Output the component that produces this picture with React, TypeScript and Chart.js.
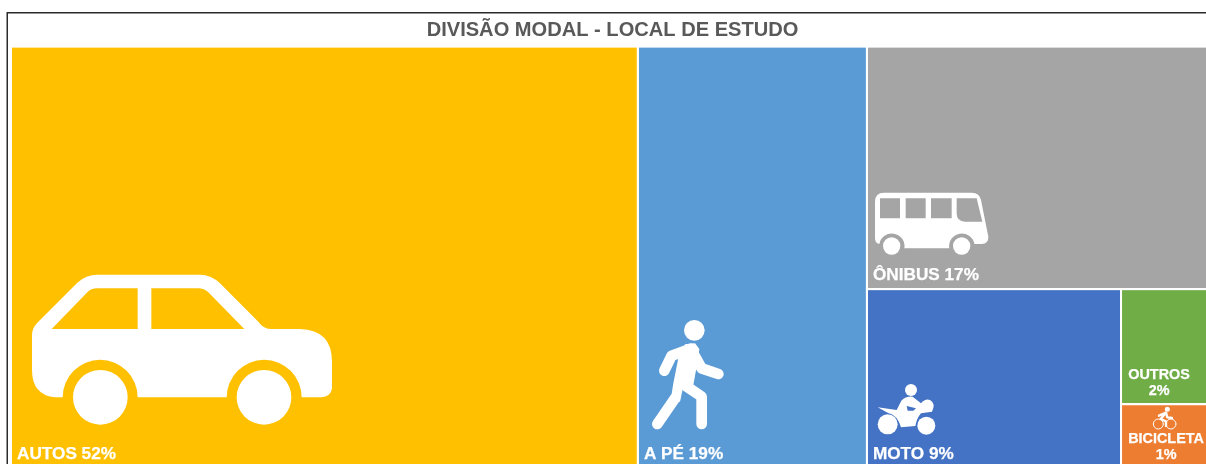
import React, { useEffect, useRef } from "react";
import { Chart, registerables } from "chart.js";

Chart.register(...registerables);

const titleText = "DIVISÃO MODAL - LOCAL DE ESTUDO";
const categories = ["AUTOS", "A PÉ", "ÔNIBUS", "MOTO", "OUTROS", "BICICLETA"];
const shares = [52.11, 19.04, 16.68, 8.91, 2.12, 1.14];
const colors = ["#FFC000", "#5B9BD5", "#A5A5A5", "#4472C4", "#70AD47", "#ED7D31"];

type Box = { x0: number; x1: number; y0: number; y1: number };

// Slice-and-dice treemap in value space (0..100 on both axes); y grows upwards.
function buildBoxes(v: number[]): Box[] {
  const total = v.reduce((a, b) => a + b, 0);
  const pct = v.map((n) => (n / total) * 100);
  const [a, p, o, m, t, b] = pct;
  const rightStart = a + p;
  const rightW = 100 - rightStart;
  const lowerShare = ((m + t + b) / (o + m + t + b)) * 100;
  const motoEnd = rightStart + rightW * (m / (m + t + b));
  const splitOB = lowerShare * (b / (t + b));
  return [
    { x0: 0, x1: a, y0: 0, y1: 100 },
    { x0: a, x1: rightStart, y0: 0, y1: 100 },
    { x0: rightStart, x1: 100, y0: lowerShare, y1: 100 },
    { x0: rightStart, x1: motoEnd, y0: 0, y1: lowerShare },
    { x0: motoEnd, x1: 100, y0: splitOB, y1: lowerShare },
    { x0: motoEnd, x1: 100, y0: 0, y1: splitOB },
  ];
}

const boxes = buildBoxes(shares);
const FONT = '"Liberation Sans", Arial, sans-serif';

function drawIcons(ctx: CanvasRenderingContext2D) {
  ctx.save();
  ctx.fillStyle = "#fff";
  ctx.strokeStyle = "#fff";
  ctx.lineCap = "round";
  ctx.lineJoin = "round";
  const circle = (x: number, y: number, r: number) => {
    ctx.beginPath();
    ctx.arc(x, y, r, 0, Math.PI * 2);
    ctx.fill();
  };
  const line = (w: number, pts: number[][]) => {
    ctx.lineWidth = w;
    ctx.beginPath();
    pts.forEach(([x, y], i) => (i ? ctx.lineTo(x, y) : ctx.moveTo(x, y)));
    ctx.stroke();
  };

  // car
  ctx.save();
  ctx.translate(0, 260);
  ctx.scale(1 / 3, 1 / 3);
  ctx.fill(
    new Path2D(
      "M96 225 Q96 205 112 188 L232 68 Q258 44 292 44 L600 44 Q634 44 660 70 L775 185 Q790 207 815 207 L900 207 Q996 210 996 305 L996 380 Q996 412 955 412 L905 412 A112 112 0 0 0 680 412 L413 412 A112 112 0 0 0 188 412 L165 412 Q96 405 96 330 Z " +
        "M155 207 L262 97 Q272 85 292 85 L413 85 L413 207 Z M454 85 L595 85 Q612 85 625 97 L733 207 L454 207 Z"
    ),
    "evenodd"
  );
  circle(301, 412, 82);
  circle(792, 412, 82);
  ctx.restore();

  // pedestrian
  ctx.save();
  ctx.translate(630, 300);
  ctx.scale(1 / 3, 1 / 3);
  circle(193, 91, 31);
  line(32, [[103, 212], [125, 167], [182, 146], [215, 205], [265, 222]]);
  ctx.fill(new Path2D("M165 133 L195 130 L208 147 L200 200 L190 255 L158 268 L150 305 L122 300 L130 250 L145 175 Z"));
  line(32, [[135, 295], [82, 372]]);
  line(32, [[168, 258], [215, 290], [215, 372]]);
  ctx.restore();

  // bus
  ctx.save();
  ctx.translate(860, 180);
  ctx.scale(1 / 3, 1 / 3);
  ctx.fill(
    new Path2D(
      "M45 65 Q45 38 72 38 L335 38 Q358 38 363 60 L385 170 Q386 190 365 192 L343 192 A38 38 0 0 0 268 205 L133 205 A38 38 0 0 0 58 192 Q45 190 45 175 Z " +
        "M60 55 L120 55 L120 115 L60 115 Z M137 55 L197 55 L197 115 L137 115 Z M213 55 L275 55 L275 115 L213 115 Z " +
        "M290 55 L350 55 L367 125 L315 125 Q290 125 290 100 Z"
    ),
    "evenodd"
  );
  circle(95, 198, 26);
  circle(305, 198, 26);
  ctx.restore();

  // motorcycle
  ctx.save();
  ctx.translate(866, 370);
  ctx.scale(1 / 3, 1 / 3);
  circle(65, 163, 30);
  circle(181, 167, 27);
  circle(135, 60, 18);
  ctx.fill(
    new Path2D(
      "M35 112 L92 120 L106 92 Q120 78 140 80 L165 100 Q178 85 192 90 Q210 100 198 125 L165 130 Q152 145 148 168 L105 172 Q95 135 65 128 Z " +
        "M122 108 L150 115 L142 122 L125 122 Z"
    ),
    "evenodd"
  );
  ctx.restore();

  // bicycle
  ctx.save();
  ctx.translate(1110, 350);
  ctx.scale(1 / 3, 1 / 3);
  circle(172, 178, 7.5);
  ctx.lineWidth = 3;
  ctx.beginPath();
  ctx.arc(145, 222, 15, 0, Math.PI * 2);
  ctx.moveTo(198, 222);
  ctx.arc(183, 222, 15, 0, Math.PI * 2);
  ctx.stroke();
  line(7, [[147, 197], [168, 188], [172, 202], [186, 204]]);
  line(7, [[168, 188], [152, 207], [168, 214], [168, 228]]);
  ctx.restore();
  ctx.restore();
}

const treemapPlugin = {
  id: "treemapDecor",
  afterDatasetsDraw(chart: any) {
    const { ctx, scales } = chart;
    const { x, y } = scales;
    const px = (b: Box) => ({
      l: x.getPixelForValue(b.x0),
      r: x.getPixelForValue(b.x1),
      t: y.getPixelForValue(b.y1),
      b: y.getPixelForValue(b.y0),
    });
    ctx.save();
    // white gutters between the tiles
    ctx.strokeStyle = "#ffffff";
    ctx.lineWidth = 2;
    boxes.forEach((b) => {
      const p = px(b);
      ctx.strokeRect(p.l, p.t, p.r - p.l, p.b - p.t);
    });

    drawIcons(ctx);

    // tile labels
    ctx.fillStyle = "#ffffff";
    ctx.strokeStyle = "#ffffff";
    ctx.lineWidth = 0.25;
    ctx.textBaseline = "alphabetic";
    ctx.textAlign = "left";
    const put = (s: string, tx: number, ty: number) => {
      ctx.fillText(s, tx, ty);
      ctx.strokeText(s, tx, ty);
    };
    const pctText = (i: number) => `${Math.round(shares[i])}%`;
    ctx.font = `bold 17.2px ${FONT}`;
    [0, 1, 2, 3].forEach((i) => {
      const p = px(boxes[i]);
      const base = i === 2 ? p.b - 9.5 : 458.5;
      put(`${categories[i]} ${pctText(i)}`, p.l + 6, base);
    });
    ctx.font = `bold 14.4px ${FONT}`;
    ctx.textAlign = "center";
    const o = px(boxes[4]);
    put(categories[4], o.l + 38, 379);
    put(pctText(4), o.l + 38, 395);
    const c = px(boxes[5]);
    put(categories[5], c.l + 45, 443);
    put(pctText(5), c.l + 45, 459);

    // outer frame
    ctx.strokeStyle = "#2b2b2b";
    ctx.lineWidth = 1.5;
    ctx.strokeRect(7.25, 12.75, 1400, 1000);
    ctx.restore();
  },
};

export default function App() {
  const ref = useRef<HTMLCanvasElement | null>(null);
  useEffect(() => {
    if (!ref.current) return;
    const chart = new Chart(ref.current, {
      type: "line",
      data: {
        datasets: categories.map((name, i) => ({
          label: name,
          data: [
            { x: boxes[i].x0, y: boxes[i].y1 },
            { x: boxes[i].x1, y: boxes[i].y1 },
          ],
          fill: { value: boxes[i].y0 },
          backgroundColor: colors[i],
          borderColor: colors[i],
          borderWidth: 0,
          pointRadius: 0,
          tension: 0,
        })),
      },
      options: {
        animation: false,
        responsive: false,
        events: [],
        layout: { padding: { left: 11, right: 6, top: 0, bottom: 14 } },
        plugins: {
          legend: { display: false },
          tooltip: { enabled: false },
          title: {
            display: true,
            text: titleText,
            color: "#595959",
            font: { family: FONT, size: 20.1, weight: "bold" },
            padding: { top: 18, bottom: 4.5 },
          },
        },
        scales: {
          x: { type: "linear", min: 0, max: 100, display: false },
          y: { type: "linear", min: 0, max: 100, display: false },
        },
      },
      plugins: [treemapPlugin],
    } as any);
    return () => chart.destroy();
  }, []);
  return (
    <div style={{ position: "fixed", left: 0, top: 0, width: 1206, height: 464, overflow: "hidden", background: "#fff" }}>
      <canvas ref={ref} width={1220} height={480} style={{ display: "block" }} />
    </div>
  );
}
